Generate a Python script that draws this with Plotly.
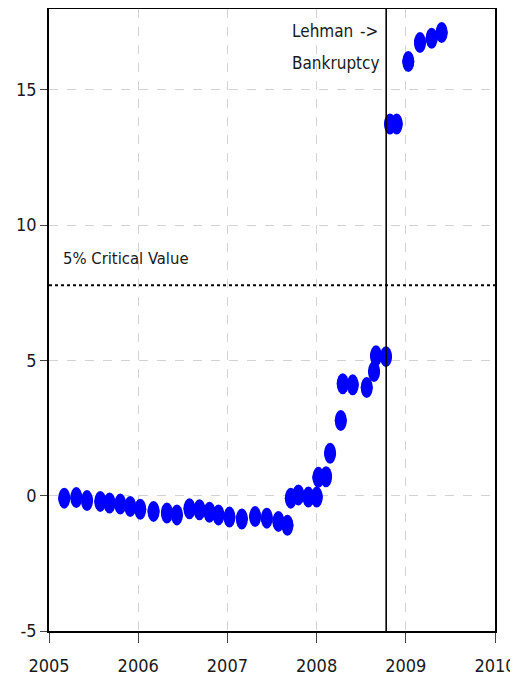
import plotly.graph_objects as go

# Data
dates = [2005.171, 2005.306, 2005.426, 2005.575, 2005.679, 2005.799, 2005.911,
         2006.023, 2006.172, 2006.322, 2006.434, 2006.575, 2006.687, 2006.799,
         2006.900, 2007.023, 2007.162, 2007.311, 2007.442, 2007.572, 2007.673,
         2007.711, 2007.796, 2007.908, 2008.002, 2008.020, 2008.106, 2008.151,
         2008.271, 2008.293, 2008.405, 2008.562, 2008.644, 2008.666, 2008.778,
         2008.823, 2008.898, 2009.028, 2009.159, 2009.290, 2009.402]
stat = [-0.09, -0.07, -0.18, -0.21, -0.27, -0.31, -0.40,
        -0.50, -0.58, -0.64, -0.71, -0.48, -0.52, -0.61,
        -0.71, -0.79, -0.86, -0.77, -0.83, -0.95, -1.09,
        -0.09, 0.03, -0.05, -0.05, 0.68, 0.70, 1.57,
        2.78, 4.14, 4.10, 4.00, 4.59, 5.17, 5.14,
        13.74, 13.74, 16.05, 16.75, 16.91, 17.12]
critical_value = 7.78
lehman_date = 2008.78
x_ticks = [2005, 2006, 2007, 2008, 2009, 2010]
y_ticks = [-5, 0, 5, 10, 15]

FONT = "DejaVu Sans Condensed, Liberation Sans, sans-serif"
BLUE = "#0000ff"
TXT = "#1a1a1a"

fig = go.Figure()
fig.add_trace(go.Scatter(x=dates, y=stat, mode="markers",
                         marker=dict(color=BLUE, size=12, line=dict(width=0)),
                         showlegend=False, hoverinfo="x+y"))

# elliptical markers (12 x 21 px) built from the data through the axis scale
hw = 6.0 / 89.3
hh = 10.5 / 27.05
shapes = []
for xv, yv in zip(dates, stat):
    shapes.append(dict(type="circle", xref="x", yref="y",
                       x0=xv - hw, x1=xv + hw, y0=yv - hh, y1=yv + hh,
                       fillcolor=BLUE, line=dict(width=0), layer="above"))

shapes.append(dict(type="line", xref="paper", yref="y", x0=0, x1=1,
                   y0=critical_value, y1=critical_value,
                   line=dict(color="black", width=2.2, dash="dot")))
shapes.append(dict(type="line", xref="x", yref="paper", x0=lehman_date, x1=lehman_date,
                   y0=0, y1=1, line=dict(color="black", width=1.6)))

# the page adds an 8 px body margin, so the figure is sized to fit inside it
fig.update_layout(
    width=510, height=677,
    margin=dict(l=41, r=23, t=1, b=54, autoexpand=False),
    paper_bgcolor="white", plot_bgcolor="white",
    font=dict(family=FONT, size=17, color=TXT),
    shapes=shapes,
    showlegend=False,
)
fig.update_xaxes(range=[2005, 2010], tickvals=x_ticks, ticktext=[str(t) for t in x_ticks],
                 showgrid=True, gridcolor="#d3d3d3", griddash="dash", gridwidth=1,
                 showline=True, linecolor="black", linewidth=1.6, mirror=True,
                 ticks="outside", ticklen=10, tickcolor="#444", zeroline=False,
                 automargin=False, ticklabelstandoff=8,
                 tickfont=dict(family=FONT, size=18, color=TXT))
fig.update_yaxes(range=[-5, 17.99], tickvals=y_ticks, ticktext=[str(t) for t in y_ticks],
                 showgrid=True, gridcolor="#d3d3d3", griddash="dash", gridwidth=1,
                 showline=True, linecolor="black", linewidth=1.6, mirror=True,
                 ticks="outside", ticklen=7, tickcolor="#444", zeroline=False,
                 automargin=False,
                 tickfont=dict(family=FONT, size=18, color=TXT))

fig.add_annotation(x=2005.14, y=8.75, xref="x", yref="y", text="5% Critical Value",
                   showarrow=False, xanchor="left", yanchor="middle",
                   font=dict(family=FONT, size=16.5, color=TXT))
fig.add_annotation(x=2007.70, y=17.18, xref="x", yref="y", text="Lehman",
                   showarrow=False, xanchor="left", yanchor="middle",
                   font=dict(family=FONT, size=17, color=TXT))
fig.add_annotation(x=2008.711, y=17.18, xref="x", yref="y", text="->",
                   showarrow=False, xanchor="right", yanchor="middle",
                   font=dict(family=FONT, size=17, color=TXT))
fig.add_annotation(x=2007.70, y=16.0, xref="x", yref="y", text="Bankruptcy",
                   showarrow=False, xanchor="left", yanchor="middle",
                   font=dict(family=FONT, size=17, color=TXT))

fig.write_html("out.html")
